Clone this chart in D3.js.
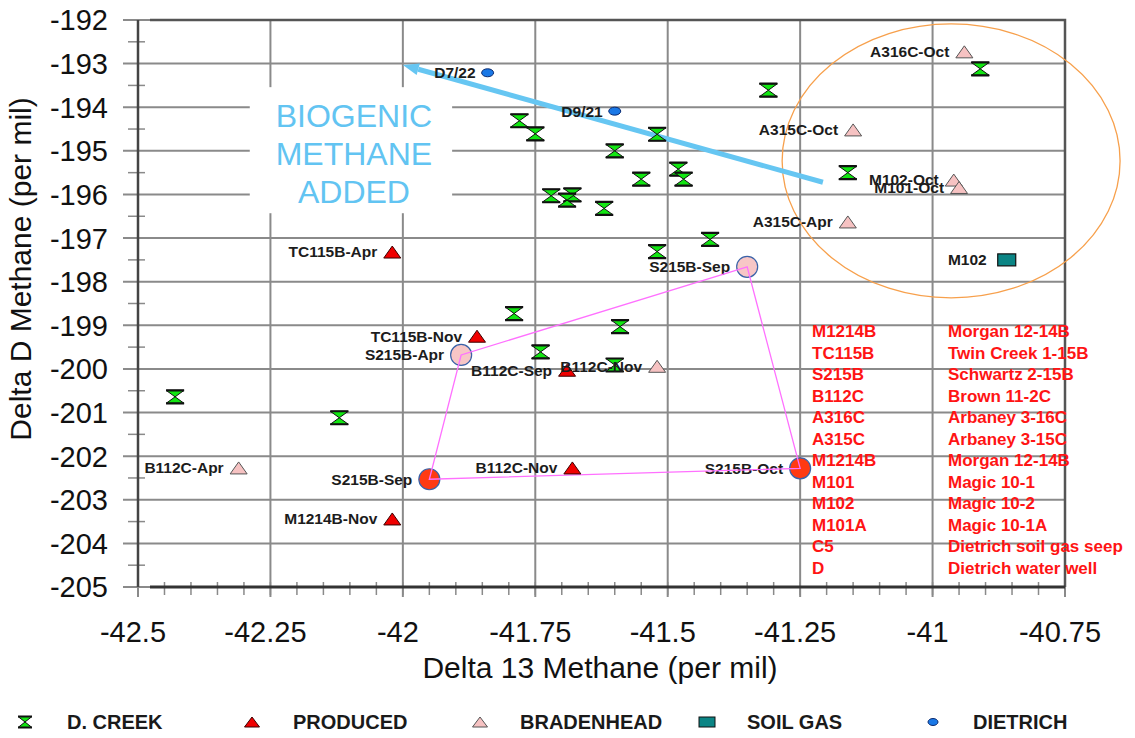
<!DOCTYPE html>
<html>
<head>
<meta charset="utf-8">
<script src="https://cdn.jsdelivr.net/npm/d3@7"></script>
<style>
body { margin: 0; background: #fff; }
svg { display: block; font-family: Arial, "Liberation Sans", sans-serif; }
</style>
</head>
<body>
<div class="container"></div>
<script>
const wd = 1135
const ht = 738

// tick values / labels
const xTicks = [-42.5, -42.25, -42, -41.75, -41.5, -41.25, -41, -40.75]
const xTickLabels = ["-42.5", "-42.25", "-42", "-41.75", "-41.5", "-41.25", "-41", "-40.75"]
const yTicks = [-192, -193, -194, -195, -196, -197, -198, -199, -200, -201, -202, -203, -204, -205]
const yTickLabels = yTicks.map(d => "-" + Math.abs(d))

// series: [delta13, deltaD]
const dCreek = [
  [-42.43, -200.64], [-42.12, -201.12], [-41.79, -198.73], [-41.59, -199.03],
  [-41.74, -199.61], [-41.60, -199.91], [-41.31, -193.61], [-41.78, -194.31],
  [-41.75, -194.61], [-41.52, -194.62], [-41.60, -195.00], [-41.55, -195.65],
  [-41.48, -195.42], [-41.47, -195.65], [-41.72, -196.03], [-41.68, -196.01],
  [-41.69, -196.13], [-41.62, -196.32], [-41.42, -197.03], [-41.52, -197.31],
  [-40.91, -193.12], [-41.16, -195.50]
]
const produced = [
  ["TC115B-Apr", -42.02, -197.32], ["TC115B-Nov", -41.86, -199.25],
  ["B112C-Sep", -41.69, -200.03], ["B112C-Nov", -41.68, -202.27],
  ["M1214B-Nov", -42.02, -203.44]
]
const bradenhead = [
  ["B112C-Apr", -42.31, -202.27], ["B112C-Nov", -41.52, -199.94],
  ["A316C-Oct", -40.94, -192.73], ["A315C-Oct", -41.15, -194.52],
  ["M102-Oct", -40.96, -195.67], ["M101-Oct", -40.95, -195.84],
  ["A315C-Apr", -41.16, -196.63]
]
const soilGas = [["M102", -40.86, -197.50]]
const dietrich = [["D7/22", -41.84, -193.21], ["D9/21", -41.60, -194.09]]
// S215B path (big circles), in time order round the loop
const s215b = [
  ["S215B-Sep", -41.35, -197.66, "#f7c6c6"],
  ["S215B-Apr", -41.89, -199.68, "#f7c6c6"],
  ["S215B-Sep", -41.95, -202.53, "#ff3a12"],
  ["S215B-Oct", -41.25, -202.28, "#ff3a12"]
]

// well code table
const codes = ["M1214B", "TC115B", "S215B", "B112C", "A316C", "A315C", "M1214B", "M101", "M102", "M101A", "C5", "D"]
const names = ["Morgan 12-14B", "Twin Creek 1-15B", "Schwartz 2-15B", "Brown 11-2C", "Arbaney 3-16C",
  "Arbaney 3-15C", "Morgan 12-14B", "Magic 10-1", "Magic 10-2", "Magic 10-1A",
  "Dietrich soil gas seep", "Dietrich water well"]

// annotations (data units)
const arrowPts = [[-41.207, -195.72], [-42.0, -193.03]]
const ellipseC = [-40.965, -195.23], ellipseR = [0.319, 3.14]
const bioBox = [[-42.289, -193.54], [-41.907, -196.43]]
const bioText = ["BIOGENIC", "METHANE", "ADDED"]

const legendItems = ["D. CREEK", "PRODUCED", "BRADENHEAD", "SOIL GAS", "DIETRICH"]

const svgC = d3.select(".container")
  .append("svg")
  .attr("width", wd)
  .attr("height", ht)

const xScale = d3.scaleLinear().domain([-42.5, -40.75]).range([138, 1065])
const yScale = d3.scaleLinear().domain([-205, -192]).range([587, 20])

const grey = "#8a8a8a"

// minor ticks
const xMinor = d3.range(0, 36).map(i => -42.5 + i * 0.05)
svgC.append("g").selectAll("line").data(xMinor).join("line")
  .attr("x1", d => xScale(d)).attr("x2", d => xScale(d))
  .attr("y1", 582).attr("y2", 595)
  .style("stroke", grey).style("stroke-width", 1.5)
const yMinor = d3.range(0, 13).map(i => -204.5 + i)
svgC.append("g").selectAll("line").data(yMinor).join("line")
  .attr("x1", 128).attr("x2", 145)
  .attr("y1", d => yScale(d)).attr("y2", d => yScale(d))
  .style("stroke", grey).style("stroke-width", 1.5)

// grid lines
svgC.append("g").selectAll("line").data(xTicks).join("line")
  .attr("x1", d => xScale(d)).attr("x2", d => xScale(d))
  .attr("y1", yScale(-192)).attr("y2", 597)
  .style("stroke", grey).style("stroke-width", 2)
svgC.append("g").selectAll("line").data(yTicks).join("line")
  .attr("x1", 123).attr("x2", xScale(-40.75))
  .attr("y1", d => yScale(d)).attr("y2", d => yScale(d))
  .style("stroke", grey).style("stroke-width", 2)

// frame
svgC.append("path")
  .attr("d", `M${xScale(-42.5) + 12},${yScale(-192)} H${xScale(-40.75)} V${yScale(-205)}`)
  .attr("fill", "none").style("stroke", "#555").style("stroke-width", 2.5)
svgC.append("line")
  .attr("x1", xScale(-42.5)).attr("x2", xScale(-42.5))
  .attr("y1", yScale(-192)).attr("y2", yScale(-205))
  .style("stroke", "#444").style("stroke-width", 2.5)
svgC.append("line")
  .attr("x1", xScale(-42.5) + 12).attr("x2", xScale(-40.75))
  .attr("y1", yScale(-205)).attr("y2", yScale(-205))
  .style("stroke", "#333").style("stroke-width", 3)

// tick labels
svgC.append("g").selectAll("text").data(yTicks).join("text")
  .attr("x", 108).attr("y", d => yScale(d)).attr("dy", "0.36em")
  .attr("text-anchor", "end")
  .style("font-size", "29px").style("fill", "#111")
  .text((d, i) => yTickLabels[i])
svgC.append("g").selectAll("text").data(xTicks).join("text")
  .attr("x", d => xScale(d) - 5).attr("y", 642)
  .attr("text-anchor", "middle")
  .style("font-size", "29px").style("fill", "#111")
  .text((d, i) => xTickLabels[i])

// axis titles
svgC.append("text")
  .attr("x", 600).attr("y", 678).attr("text-anchor", "middle")
  .style("font-size", "30px").style("fill", "#111")
  .text("Delta 13 Methane (per mil)")
svgC.append("text")
  .attr("transform", "translate(31,269) rotate(-90)")
  .attr("text-anchor", "middle")
  .style("font-size", "30px").style("fill", "#111")
  .text("Delta D Methane (per mil)")

// biogenic annotation box
svgC.append("rect")
  .attr("x", xScale(bioBox[0][0])).attr("y", yScale(bioBox[0][1]))
  .attr("width", xScale(bioBox[1][0]) - xScale(bioBox[0][0]))
  .attr("height", yScale(bioBox[1][1]) - yScale(bioBox[0][1]))
  .attr("fill", "#fff")
svgC.append("g").selectAll("text").data(bioText).join("text")
  .attr("x", (xScale(bioBox[0][0]) + xScale(bioBox[1][0])) / 2 + 3)
  .attr("y", (d, i) => yScale(bioBox[0][1]) + 40 + i * 38)
  .attr("text-anchor", "middle")
  .style("font-size", "32px").style("fill", "#62c4f2")
  .text(d => d)

// orange ellipse
svgC.append("ellipse")
  .attr("cx", xScale(ellipseC[0])).attr("cy", yScale(ellipseC[1]))
  .attr("rx", xScale(ellipseC[0] + ellipseR[0]) - xScale(ellipseC[0]))
  .attr("ry", yScale(ellipseC[1] - ellipseR[1]) - yScale(ellipseC[1]))
  .attr("fill", "none").style("stroke", "#f7a04c").style("stroke-width", 1.3)

// blue arrow
const ax0 = xScale(arrowPts[0][0]), ay0 = yScale(arrowPts[0][1])
const ax1 = xScale(arrowPts[1][0]), ay1 = yScale(arrowPts[1][1])
const ang = Math.atan2(ay1 - ay0, ax1 - ax0)
const hl = 16, hw = 6
const bx = ax1 - hl * Math.cos(ang), by = ay1 - hl * Math.sin(ang)
svgC.append("line")
  .attr("x1", ax0).attr("y1", ay0).attr("x2", bx).attr("y2", by)
  .style("stroke", "#66c6f2").style("stroke-width", 5)
svgC.append("path")
  .attr("d", `M${ax1},${ay1} L${bx - hw * Math.sin(ang)},${by + hw * Math.cos(ang)} L${bx + hw * Math.sin(ang)},${by - hw * Math.cos(ang)} Z`)
  .attr("fill", "#66c6f2")

// marker shapes
const hourglass = (w, h) => `M${-w / 2},${-h / 2} L${w / 2},${-h / 2} L0,0 Z M${-w / 2},${h / 2} L${w / 2},${h / 2} L0,0 Z`
const tri = (w, h) => `M0,${-h / 2} L${w / 2},${h / 2} L${-w / 2},${h / 2} Z`

function drawHourglass(g, x, y, w, h) {
  g.append("path").attr("transform", `translate(${x},${y})`)
    .attr("d", hourglass(w, h))
    .attr("fill", "#12e612").style("stroke", "#111").style("stroke-width", 1)
  g.append("path").attr("transform", `translate(${x},${y})`)
    .attr("d", `M${-w / 2},${-h / 2} H${w / 2} M${-w / 2},${h / 2} H${w / 2}`)
    .style("stroke", "#111").style("stroke-width", 2.2)
}

function pointLabel(g, txt, x, y, off) {
  g.append("text")
    .attr("x", x - off).attr("y", y).attr("dy", "0.35em")
    .attr("text-anchor", "end")
    .style("font-size", "15.5px").style("font-weight", "bold").style("fill", "#1c1c1c")
    .text(txt)
}

const marks = svgC.append("g")

// S215B circles with connecting path drawn over them
s215b.forEach(d => {
  marks.append("circle")
    .attr("cx", xScale(d[1])).attr("cy", yScale(d[2])).attr("r", 10.5)
    .attr("fill", d[3]).style("stroke", "#3a62a8").style("stroke-width", 1.2)
  pointLabel(marks, d[0], xScale(d[1]), yScale(d[2]), 17)
})
const loop = d3.line().x(d => xScale(d[1])).y(d => yScale(d[2])).curve(d3.curveLinearClosed)
marks.append("path").attr("d", loop(s215b))
  .attr("fill", "none").style("stroke", "#ff70ff").style("stroke-width", 1.3)

dCreek.forEach(d => drawHourglass(marks, xScale(d[0]), yScale(d[1]), 18, 13))

produced.forEach(d => {
  marks.append("path").attr("transform", `translate(${xScale(d[1])},${yScale(d[2])})`)
    .attr("d", tri(17, 12)).attr("fill", "#f00000").style("stroke", "#3a0000").style("stroke-width", 1)
  pointLabel(marks, d[0], xScale(d[1]), yScale(d[2]), 15)
})
bradenhead.forEach(d => {
  marks.append("path").attr("transform", `translate(${xScale(d[1])},${yScale(d[2])})`)
    .attr("d", tri(17, 12)).attr("fill", "#f6c2c2").style("stroke", "#555").style("stroke-width", 1)
  pointLabel(marks, d[0], xScale(d[1]), yScale(d[2]), 15)
})
soilGas.forEach(d => {
  marks.append("rect")
    .attr("x", xScale(d[1]) - 9).attr("y", yScale(d[2]) - 6).attr("width", 18).attr("height", 12)
    .attr("fill", "#0b8585").style("stroke", "#111").style("stroke-width", 1.2)
  pointLabel(marks, d[0], xScale(d[1]), yScale(d[2]), 20)
})
dietrich.forEach(d => {
  marks.append("ellipse")
    .attr("cx", xScale(d[1])).attr("cy", yScale(d[2])).attr("rx", 6).attr("ry", 4)
    .attr("fill", "#1a78e6").style("stroke", "#0a2a70").style("stroke-width", 1)
  pointLabel(marks, d[0], xScale(d[1]), yScale(d[2]), 12)
})

// code table in red
svgC.append("g").selectAll("text").data(codes).join("text")
  .attr("x", 812).attr("y", (d, i) => 331 + i * 21.5).attr("dy", "0.36em")
  .style("font-size", "17px").style("font-weight", "bold").style("fill", "#ff1414")
  .text(d => d)
svgC.append("g").selectAll("text").data(names).join("text")
  .attr("x", 948).attr("y", (d, i) => 331 + i * 21.5).attr("dy", "0.36em")
  .style("font-size", "17px").style("font-weight", "bold").style("fill", "#ff1414")
  .text(d => d)

// legend
const legX = [25, 252, 480, 707, 933]
const legTextX = [67, 293, 520, 747, 973]
const legY = 722
const leg = svgC.append("g")
drawHourglass(leg, legX[0], legY, 14, 11)
leg.append("path").attr("transform", `translate(${legX[1]},${legY})`)
  .attr("d", tri(15, 10)).attr("fill", "#f00000").style("stroke", "#3a0000")
leg.append("path").attr("transform", `translate(${legX[2]},${legY})`)
  .attr("d", tri(15, 10)).attr("fill", "#f6c2c2").style("stroke", "#555")
leg.append("rect").attr("x", legX[3] - 8).attr("y", legY - 5).attr("width", 16).attr("height", 10)
  .attr("fill", "#0b8585").style("stroke", "#111")
leg.append("ellipse").attr("cx", legX[4]).attr("cy", legY).attr("rx", 5).attr("ry", 3.5)
  .attr("fill", "#1a78e6").style("stroke", "#0a2a70")
leg.selectAll("text").data(legendItems).join("text")
  .attr("x", (d, i) => legTextX[i]).attr("y", legY).attr("dy", "0.36em")
  .style("font-size", "20px").style("font-weight", "bold").style("fill", "#1a1a1a")
  .text(d => d)
</script>
</body>
</html>
